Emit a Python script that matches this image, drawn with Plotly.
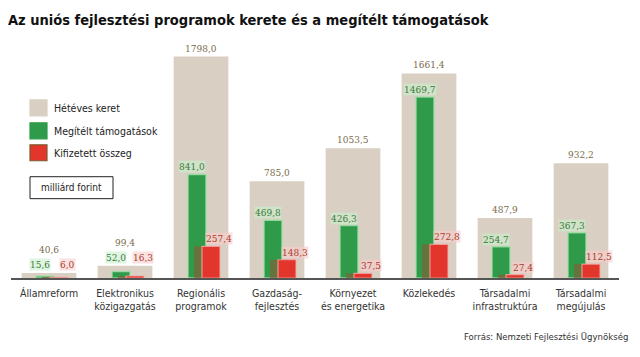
import plotly.graph_objects as go

categories = ["Államreform", "Elektronikus<br>közigazgatás", "Regionális<br>programok",
              "Gazdaság-<br>fejlesztés", "Környezet<br>és energetika", "Közlekedés",
              "Társadalmi<br>infrastruktúra", "Társadalmi<br>megújulás"]
hetéves_keret = [40.6, 99.4, 1798.0, 785.0, 1053.5, 1661.4, 487.9, 932.2]
megitelt = [15.6, 52.0, 841.0, 469.8, 426.3, 1469.7, 254.7, 367.3]
kifizetett = [6.0, 16.3, 257.4, 148.3, 37.5, 272.8, 27.4, 112.5]

# the page body adds an 8px offset; size the figure so that it fills the window
OFF = 8
W, H = 640 - OFF, 357 - OFF
PL, PR, PT, PB = 11, 619, 44, 278.5          # plot area in window pixels
ML, MR, MT = PL - OFF, 640 - PR, PT - OFF
MB = 357 - PB
PW, PH = PR - PL, PB - PT

def px(x):
    return (x - PL) / PW

def py(y):
    return (PB - y) / PH

def fmt(v):
    return f"{v:.1f}".replace(".", ",")

BEIGE = "#d9cfc3"
GREEN = "#2f9a4a"
RED = "#e2352b"
SHADOW = "#7a6638"

SANS = "DejaVu Sans Condensed"
SERIF = "DejaVu Serif Condensed"

xs = list(range(len(categories)))

fig = go.Figure()
fig.add_trace(go.Bar(x=xs, y=hetéves_keret, width=0.72, offset=-0.36,
                     marker=dict(color=BEIGE, line=dict(width=0)), name="Hétéves keret",
                     showlegend=False, hoverinfo="skip"))
fig.add_trace(go.Bar(x=xs, y=megitelt, width=0.237, offset=-0.171,
                     marker=dict(color=GREEN, line=dict(width=1.5, color="rgba(160,225,170,0.8)")),
                     name="Megítélt támogatások", showlegend=False, hoverinfo="skip"))
fig.add_trace(go.Bar(x=xs, y=kifizetett, width=0.237, offset=-0.092,
                     marker=dict(color=SHADOW, opacity=0.75, line=dict(width=0)),
                     showlegend=False, hoverinfo="skip"))
fig.add_trace(go.Bar(x=xs, y=kifizetett, width=0.237, offset=0.013,
                     marker=dict(color=RED, line=dict(width=1.2, color="rgba(245,170,170,0.8)")),
                     name="Kifizetett összeg", showlegend=False, hoverinfo="skip"))

annotations = []
for i in xs:
    small = hetéves_keret[i] < 200
    gy = hetéves_keret[i] if small else megitelt[i]
    ry = hetéves_keret[i] if small else kifizetett[i]
    annotations.append(dict(x=i, y=hetéves_keret[i], xref="x", yref="y", text=fmt(hetéves_keret[i]),
                            showarrow=False, yanchor="bottom", yshift=16 if small else 1,
                            font=dict(family=SERIF, size=10, color="#7b6b4b")))
    annotations.append(dict(x=i, y=gy, xref="x", yref="y", text=fmt(megitelt[i]),
                            showarrow=False, yanchor="bottom", yshift=2 if small else 1, xshift=-9,
                            bgcolor="rgba(200,240,205,0.6)", borderpad=0,
                            font=dict(family=SERIF, size=10, color="#3f7a3a")))
    annotations.append(dict(x=i, y=ry, xref="x", yref="y", text=fmt(kifizetett[i]),
                            showarrow=False, yanchor="bottom", yshift=2 if small else 1, xshift=18,
                            bgcolor="rgba(250,205,205,0.6)", borderpad=0,
                            font=dict(family=SERIF, size=10, color="#a8402a")))

legend_items = [("Hétéves keret", BEIGE, 100, 116, 108),
                ("Megítélt támogatások", GREEN, 123, 139, 131),
                ("Kifizetett összeg", RED, 145, 161, 153)]
shapes = []
for label, col, y0, y1, yc in legend_items:
    shapes.append(dict(type="rect", xref="paper", yref="paper",
                       x0=px(30), x1=px(47), y0=py(y1), y1=py(y0),
                       fillcolor=col,
                       line=dict(width=1.2, color="#7d5a30" if col == RED else col)))
    annotations.append(dict(x=px(52), y=py(yc), xref="paper", yref="paper", text=label,
                            showarrow=False, xanchor="left", yanchor="middle",
                            font=dict(family=SANS, size=10.5, color="#222")))
shapes.append(dict(type="rect", xref="paper", yref="paper", x0=px(30), x1=px(113),
                   y0=py(199), y1=py(177), fillcolor="white", line=dict(width=1, color="#222")))
annotations.append(dict(x=px(71.5), y=py(188), xref="paper", yref="paper", text="milliárd forint",
                        showarrow=False, xanchor="center", yanchor="middle",
                        font=dict(family=SANS, size=10, color="#222")))
annotations.append(dict(x=px(630), y=py(337), xref="paper", yref="paper",
                        text="Forrás: Nemzeti Fejlesztési Ügynökség",
                        showarrow=False, xanchor="right", yanchor="middle",
                        font=dict(family=SANS, size=9.5, color="#333")))

fig.update_layout(
    width=W, height=H,
    margin=dict(l=ML, r=MR, t=MT, b=MB, autoexpand=False),
    paper_bgcolor="white", plot_bgcolor="white",
    barmode="overlay",
    title=dict(text="<b>Az uniós fejlesztési programok kerete és a megítélt támogatások</b>",
               xref="container", yref="container", x=0, y=1 - (20 - OFF) / H,
               xanchor="left", yanchor="middle",
               font=dict(family=SANS, size=14.5, color="#111")),
    xaxis=dict(range=[-0.5, len(categories) - 0.5], tickmode="array", tickvals=xs,
               ticktext=categories, showgrid=False, zeroline=False, automargin=False,
               showline=True, linecolor="#555", linewidth=2, layer="below traces",
               ticks="", ticklabelstandoff=4,
               tickfont=dict(family=SANS, size=10.5, color="#333")),
    yaxis=dict(range=[0, 1900], visible=False, showgrid=False, zeroline=False, automargin=False),
    annotations=annotations, shapes=shapes,
)

fig.write_html("out.html")
